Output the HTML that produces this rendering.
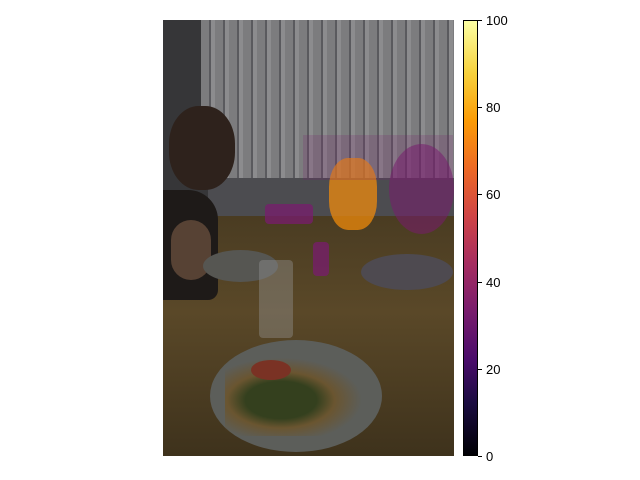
<!DOCTYPE html>
<html><head><meta charset="utf-8">
<style>
body{margin:0;width:640px;height:480px;background:#fff;position:relative;overflow:hidden;font-family:"Liberation Sans",sans-serif;}
#img{position:absolute;left:163px;top:20px;width:291px;height:436px;overflow:hidden;background:#3a3a3c;}
.a{position:absolute;}
#cbar{position:absolute;left:463px;top:20px;width:15px;height:436px;border:1px solid #000;box-sizing:border-box;
background:linear-gradient(to top,#000004 0%,#1b0c41 12%,#4a0c6b 22%,#781c6d 33%,#a52c60 44%,#cf4446 55%,#ed6925 66%,#fb9b06 77%,#f7d13d 88%,#fcffa4 100%);}
.tick{position:absolute;left:478px;width:4px;height:1px;background:#000;}
.tl{position:absolute;left:486px;font-size:13px;color:#000;line-height:13px;}
</style></head><body>
<div id="img">
  <div class="a" style="left:0;top:0;width:291px;height:200px;background:#363638"></div>
  <div class="a" style="left:38px;top:0;width:253px;height:160px;background:repeating-linear-gradient(90deg,#7c7c7e 0 8px,#5a5a5e 8px 10px,#8c8c8e 10px 14px);"></div>
  <div class="a" style="left:45px;top:158px;width:246px;height:42px;background:#4c4c50"></div>
  <div class="a" style="left:0;top:196px;width:291px;height:240px;background:linear-gradient(#4a3c22,#5a4828 40%,#3e321c)"></div>
  <div class="a" style="left:0;top:170px;width:55px;height:110px;background:#1e1a18;border-radius:0 30px 10px 0"></div>
  <div class="a" style="left:6px;top:86px;width:66px;height:84px;background:#2e221c;border-radius:45%"></div>
  <div class="a" style="left:8px;top:200px;width:40px;height:60px;background:#574234;border-radius:20px"></div>
  <div class="a" style="left:40px;top:230px;width:75px;height:32px;background:#565652;border-radius:50%"></div>
  <div class="a" style="left:198px;top:234px;width:92px;height:36px;background:#4e4a50;border-radius:50%"></div>
  <div class="a" style="left:96px;top:240px;width:34px;height:78px;background:rgba(150,150,150,0.4);border-radius:4px"></div>
  <div class="a" style="left:47px;top:320px;width:172px;height:112px;background:#5c5e5a;border-radius:50%"></div>
  <div class="a" style="left:62px;top:336px;width:140px;height:80px;background:radial-gradient(ellipse at 40% 55%,#34401e 0 30%,#6a5530 45%,rgba(0,0,0,0) 68%)"></div>
  <div class="a" style="left:88px;top:340px;width:40px;height:20px;background:#7a3224;border-radius:50%"></div>
  <div id="heat"></div>
</div>
<div id="cbar"></div>
<div id="ticks"></div>
<script>
const tickValues=[0,20,40,60,80,100];
const tickLabels=["0","20","40","60","80","100"];
const blobNames=["heat-cat","heat-person-right","heat-bag","heat-can","heat-blinds"];
const blobValues=[88,40,35,30,45];
const cbTop=20,cbBot=456;
function yScale(v){return cbBot-(v/100)*(cbBot-cbTop);}
function colorFor(v){const s=[[0,'#000004'],[20,'#320a5e'],[40,'#781c6d'],[60,'#bc3754'],[80,'#f98e09'],[100,'#fcffa4']];for(let i=1;i<s.length;i++){if(v<=s[i][0])return (v-s[i-1][0]<s[i][0]-v)?s[i-1][1]:s[i][1];}return s[5][1];}
const tk=document.getElementById('ticks');
tickValues.forEach((v,i)=>{const y=yScale(v);
 const t=document.createElement('div');t.className='tick';t.style.top=y+'px';
 
 
 tk.appendChild(t);
 const l=document.createElement('div');l.className='tl';l.style.top=(y-6)+'px';l.textContent=tickLabels[i];
 
 
 tk.appendChild(l);});
const blobBoxes=[[166,138,48,72,'40%'],[226,124,65,90,'50%'],[102,184,48,20,'4px'],[150,222,16,34,'4px'],[140,115,150,45,'0']];
const blobOpacity=[0.7,0.55,0.75,0.75,0.2];
const h=document.getElementById('heat');
blobValues.forEach((v,i)=>{const b=blobBoxes[i];const d=document.createElement('div');d.className='a';
 d.style.cssText=`left:${b[0]}px;top:${b[1]}px;width:${b[2]}px;height:${b[3]}px;border-radius:${b[4]};background:${colorFor(v)};opacity:${blobOpacity[i]}`;
 
 
 h.appendChild(d);});
</script>
</body></html>
